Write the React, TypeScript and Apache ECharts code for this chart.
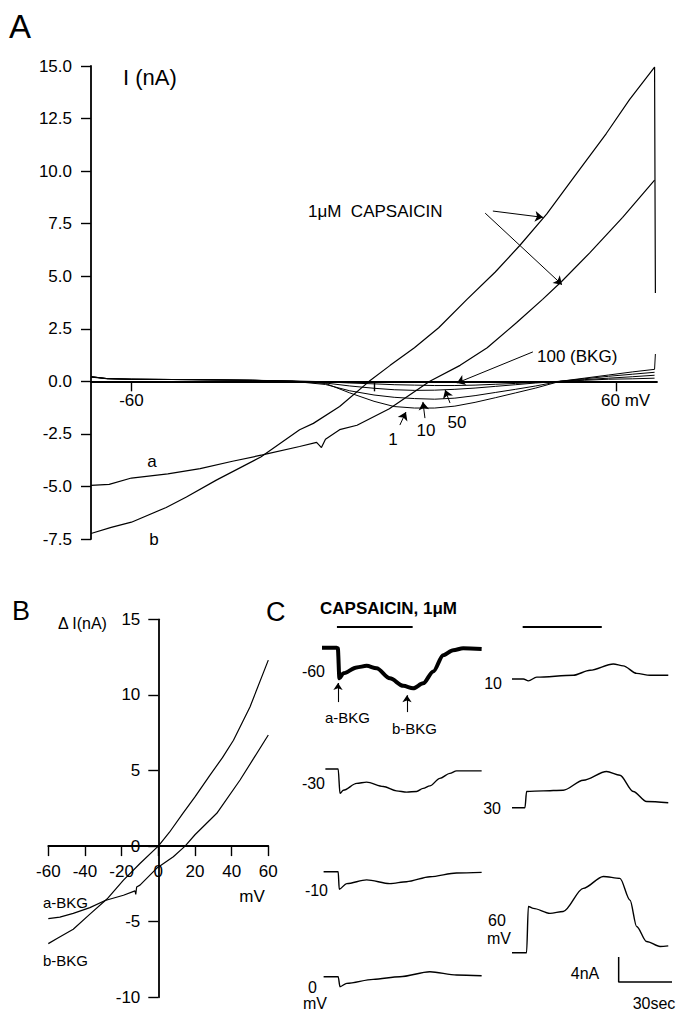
import React, { useEffect, useRef } from "react";
import * as echarts from "echarts";

const FONT = "'Liberation Sans', Arial, Helvetica, sans-serif";

// ---------- Panel A : I (nA) vs membrane potential (mV) ----------
const A_B_MV = [-70, -65, -60, -51.4, -46.4, -39, -28, -18.4, -15, -8.5, -1.2, 4, 10, 16, 23, 30, 36, 42.7, 49, 57.5, 63.2, 69.4, 69.6];
const A_B_NA = [-7.24, -6.95, -6.7, -6.0, -5.5, -4.7, -3.6, -2.3, -2.0, -1.2, 0, 0.76, 1.6, 2.55, 3.9, 5.2, 6.45, 7.95, 9.6, 11.8, 13.4, 14.95, 4.2];

const A_A_MV = [-70, -65.5, -60, -51, -43, -35, -27.6, -18.4, -14.2, -13, -12, -8.5, -4.2, 3.8, 13.8, 21.3, 28, 35.3, 41.7, 46.4, 53.3, 61.5, 69.4];
const A_A_NA = [-4.95, -4.9, -4.6, -4.4, -4.15, -3.8, -3.5, -3.1, -2.9, -3.15, -2.75, -2.3, -2.09, -1.3, 0, 0.76, 1.6, 2.8, 3.9, 4.75, 6.1, 7.8, 9.57];

const A_SMALL_MV = [-70, -66, -60, -45, -30, -20, -12, -6, 0, 5, 10, 15, 20, 25, 30, 35, 40, 46, 52, 58, 64, 69.4];
const A_BKG_NA = [0.2, 0.12, 0.1, 0.08, 0.05, 0.02, -0.02, -0.08, -0.12, -0.16, -0.18, -0.2, -0.2, -0.18, -0.14, -0.1, -0.05, 0, 0.05, 0.1, 0.12, 0.15];
const A_50_NA = [0.22, 0.13, 0.1, 0.08, 0.05, 0.01, -0.08, -0.22, -0.33, -0.4, -0.43, -0.42, -0.38, -0.32, -0.24, -0.16, -0.08, 0, 0.08, 0.15, 0.22, 0.29];
const A_10_NA = [0.22, 0.13, 0.1, 0.08, 0.05, 0.0, -0.15, -0.45, -0.65, -0.76, -0.82, -0.85, -0.8, -0.68, -0.53, -0.38, -0.22, 0, 0.12, 0.24, 0.34, 0.43];
const A_1_NA = [0.22, 0.13, 0.1, 0.08, 0.05, 0.0, -0.1, -0.55, -0.95, -1.2, -1.27, -1.27, -1.18, -1.0, -0.78, -0.55, -0.32, 0, 0.15, 0.3, 0.45, 0.57];
const A_1_END = [[69.6, 1.3]];

// annotation arrows for panel A: [fromMv, fromNa, toMv, toNa]
const A_ARROWS = [
  [29.4, 8.1, 41.8, 7.8],
  [27.5, 8.0, 46.5, 4.6],
  [39.3, 1.4, 20.5, -0.08],
  [18.8, -1.03, 17.6, -0.41],
  [12.6, -1.75, 12.1, -0.98],
  [6.4, -2.08, 7.9, -1.46],
];

// ---------- Panel B : ΔI (nA) vs mV ----------
const B_A_MV = [-60, -53.7, -46.4, -37.3, -29, -19, -12.7, -12.3, -11.8, -10, -0.9, 8.2, 14.6, 20, 31.9, 44.6, 52, 60];
const B_A_NA = [-4.8, -4.7, -4.45, -4.07, -3.6, -3.25, -2.96, -3.2, -2.7, -2.58, -1.47, -0.7, 0, 0.75, 2.17, 4.37, 5.8, 7.35];
const B_B_MV = [-60, -55, -46.4, -37.3, -28, -19, -10, -0.9, 0, 6, 13.6, 20, 28.2, 35, 41, 50, 60];
const B_B_NA = [-6.45, -6.1, -5.5, -4.5, -3.5, -2.25, -1.15, -0.1, 0, 0.9, 2.2, 3.25, 4.7, 5.85, 7.0, 9.2, 12.3];

// ---------- Panel C : current traces (time s, current nA rel. to holding) ----------
const C_M60_T = [0, 8.2, 8.9, 9.8, 12.0, 19.5, 25.1, 30.7, 38.2, 45.7, 51.3, 56.9, 62.6, 68.2, 73.8, 79.4, 89.8];
const C_M60_I = [0, 0, -0.1, -4.9, -4.1, -3.15, -2.9, -3.3, -4.9, -6.1, -6.5, -5.7, -3.8, -1.2, -0.4, -0.1, -0.2];
const C_M30_T = [1.9, 9.1, 10.1, 12, 19.5, 25.1, 34.5, 41.9, 47.6, 53.2, 56.9, 60.7, 66.3, 71.9, 75.7, 89.8];
const C_M30_I = [0, 0, -3.9, -3.4, -2.3, -2.1, -2.8, -3.5, -3.7, -3.6, -3.1, -2.7, -1.5, -0.7, -0.3, -0.3];
const C_M10_T = [0.9, 9.1, 9.7, 13.9, 25.1, 38.2, 47.6, 60.7, 75.7, 89.8];
const C_M10_I = [0, 0, -2.8, -1.9, -1.3, -1.9, -1.6, -0.8, -0.2, -0.1];
const C_0_T = [0.9, 9.1, 10.1, 13.9, 28.8, 43.8, 60.7, 75.7, 89.8];
const C_0_I = [0, 0, -1.6, -1.07, -0.43, 0, 0.8, 0.27, 0.16];
const C_10_T = [0, 6.4, 9.2, 13.9, 34.5, 43.9, 57, 62.6, 70.1, 77.6, 87.9];
const C_10_I = [0, 0, -0.3, 0.3, 0.6, 1.4, 2.4, 2.1, 0.9, 0.6, 0.6];
const C_30_T = [0, 7.3, 8.2, 17.6, 28.8, 40.1, 53.2, 60.7, 68.2, 75.7, 87.9];
const C_30_I = [0, 0, 2.6, 2.7, 2.8, 4.4, 5.8, 5.2, 2.6, 1.0, 0.8];
const C_60_T = [0, 8.2, 9.2, 12, 21.4, 28.8, 40.1, 51.4, 60.7, 66.4, 70.1, 75.7, 83.3, 87.9];
const C_60_I = [0, 0, 7.4, 7.1, 6.3, 6.6, 10.3, 12.2, 11.9, 8.4, 4.2, 1.8, 1.0, 1.1];

const CAPS_LEFT = [8.4, 51];
const CAPS_RIGHT = [6, 50.5];
const SCALE_NA = 4;
const SCALE_SEC = 30;

// ---------- layout ----------
const A_GRID = { left: 91, top: 66, width: 566, height: 473 };
const A_X = [-70, 70];
const A_Y = [-7.5, 15];
const B_GRID = { left: 48.3, top: 619.3, width: 220, height: 378 };
const B_X = [-60, 60];
const B_Y = [-10, 15];

const PX_PER_NA = 6.25;
const C_COL_X = [322, 512];
const C_COL_W = 160; // 90 s
const C_T_MAX = 90;
const C_Y_MIN = -12;
const C_Y_MAX = 14;
const CAPS_BAR_Y = 627;

const zip = (xs: number[], ys: number[]) => xs.map((x, i) => [x, ys[i]]);
// pixel offset that moves an edge axis onto the other axis' zero
const zeroOffsetFromBottom = (g: any, yr: number[]) => -(g.height * (0 - yr[0])) / (yr[1] - yr[0]);
const zeroOffsetFromLeft = (g: any, xr: number[]) => -(g.width * (0 - xr[0])) / (xr[1] - xr[0]);

const black = "#000";
const axisText = { color: black, fontFamily: FONT, fontSize: 17 };

function buildOption() {
  const grids: any[] = [];
  const xAxes: any[] = [];
  const yAxes: any[] = [];
  const series: any[] = [];

  const line = (gi: number, data: any[], width = 1.2, extra: any = {}) => ({
    type: "line",
    xAxisIndex: gi,
    yAxisIndex: gi,
    data,
    symbol: "none",
    showSymbol: false,
    silent: true,
    animation: false,
    lineStyle: { color: black, width },
    ...extra,
  });

  // Panel A grid (index 0)
  grids.push({ ...A_GRID, containLabel: false, outerBoundsMode: "none" });
  xAxes.push({
    gridIndex: 0,
    type: "value",
    position: "bottom",
    min: A_X[0],
    max: A_X[1],
    offset: zeroOffsetFromBottom(A_GRID, A_Y),
    axisLine: { show: true, onZero: false, lineStyle: { color: black, width: 1.8 } },
    axisTick: { show: true, length: 10, customValues: [-60, 0, 60], lineStyle: { color: black, width: 1.4 } },
    axisLabel: {
      ...axisText,
      margin: 11,
      customValues: [-60, 60],
      formatter: (v: number) => (v === 60 ? "{u|60 mV}" : String(v)),
      rich: { u: { ...axisText, padding: [0, 0, 0, 18] } },
    },
    splitLine: { show: false },
  });
  yAxes.push({
    gridIndex: 0,
    type: "value",
    position: "left",
    min: A_Y[0],
    max: A_Y[1],
    interval: 2.5,
    axisLine: { show: true, onZero: false, lineStyle: { color: black, width: 1.8 } },
    axisTick: { show: true, length: 10, lineStyle: { color: black, width: 1.4 } },
    axisLabel: { ...axisText, margin: 19, formatter: (v: number) => v.toFixed(1) },
    splitLine: { show: false },
  });

  series.push(line(0, zip(A_SMALL_MV, A_BKG_NA), 1.0));
  series.push(line(0, zip(A_SMALL_MV, A_50_NA), 1.0));
  series.push(line(0, zip(A_SMALL_MV, A_10_NA), 1.0));
  series.push(line(0, [...zip(A_SMALL_MV, A_1_NA), ...A_1_END], 1.0));
  series.push(line(0, zip(A_B_MV, A_B_NA), 1.2));
  series.push(
    line(0, zip(A_A_MV, A_A_NA), 1.2, {
      markLine: {
        silent: true,
        animation: false,
        symbol: ["none", "arrow"],
        symbolSize: 8,
        label: { show: false },
        lineStyle: { color: black, width: 1, type: "solid" },
        emphasis: { disabled: true },
        data: A_ARROWS.map(([x1, y1, x2, y2]) => [{ coord: [x1, y1] }, { coord: [x2, y2] }]),
      },
    })
  );

  // Panel B grid (index 1)
  grids.push({ ...B_GRID, containLabel: false, outerBoundsMode: "none" });
  xAxes.push({
    gridIndex: 1,
    type: "value",
    position: "bottom",
    min: B_X[0],
    max: B_X[1],
    interval: 20,
    offset: zeroOffsetFromBottom(B_GRID, B_Y),
    axisLine: { show: true, onZero: false, lineStyle: { color: black, width: 1.8 } },
    axisTick: { show: true, length: 10, lineStyle: { color: black, width: 1.4 } },
    axisLabel: { ...axisText, margin: 17 },
    splitLine: { show: false },
  });
  yAxes.push({
    gridIndex: 1,
    type: "value",
    position: "left",
    min: B_Y[0],
    max: B_Y[1],
    interval: 5,
    offset: zeroOffsetFromLeft(B_GRID, B_X),
    axisLine: { show: true, onZero: false, lineStyle: { color: black, width: 1.8 } },
    axisTick: { show: true, length: 10, lineStyle: { color: black, width: 1.4 } },
    axisLabel: { ...axisText, margin: 18 },
    splitLine: { show: false },
  });
  series.push(line(1, zip(B_A_MV, B_A_NA), 1.2));
  series.push(line(1, zip(B_B_MV, B_B_NA), 1.2));

  // Panel C traces: one grid each
  const traces = [
    { col: 0, base: 647.7, t: C_M60_T, i: C_M60_I, w: 4 },
    { col: 0, base: 769, t: C_M30_T, i: C_M30_I, w: 1.4 },
    { col: 0, base: 871.7, t: C_M10_T, i: C_M10_I, w: 1.4 },
    { col: 0, base: 976.7, t: C_0_T, i: C_0_I, w: 1.4 },
    { col: 1, base: 679, t: C_10_T, i: C_10_I, w: 1.4 },
    { col: 1, base: 807.7, t: C_30_T, i: C_30_I, w: 1.4 },
    { col: 1, base: 952.7, t: C_60_T, i: C_60_I, w: 1.4 },
  ];
  traces.forEach((tr, k) => {
    const gi = 2 + k;
    grids.push({
      left: C_COL_X[tr.col],
      top: tr.base - C_Y_MAX * PX_PER_NA,
      width: C_COL_W,
      height: (C_Y_MAX - C_Y_MIN) * PX_PER_NA,
      containLabel: false,
      outerBoundsMode: "none",
    });
    xAxes.push({ gridIndex: gi, type: "value", min: 0, max: C_T_MAX, show: false });
    yAxes.push({ gridIndex: gi, type: "value", min: C_Y_MIN, max: C_Y_MAX, show: false });
    const extra: any = { smooth: 0.3, smoothMonotone: "x", clip: false };
    if (k === 0) {
      extra.markLine = {
        silent: true,
        animation: false,
        symbol: ["none", "arrow"],
        symbolSize: 7,
        label: { show: false },
        lineStyle: { color: black, width: 1.1, type: "solid" },
        emphasis: { disabled: true },
        data: [
          [{ coord: [9.0, -8.7] }, { coord: [9.0, -5.65] }],
          [{ coord: [47.8, -10.3] }, { coord: [47.8, -7.6] }],
        ],
      };
    }
    series.push(line(gi, zip(tr.t, tr.i), tr.w, extra));
    // capsaicin application bars above the top trace of each column
    if (k === 0 || k === 4) {
      const lvl = (tr.base - CAPS_BAR_Y) / PX_PER_NA;
      const span = tr.col === 0 ? CAPS_LEFT : CAPS_RIGHT;
      series.push(line(gi, span.map((t) => [t, lvl]), 1.8, { clip: false }));
    }
    // scale bar next to the 60 mV trace
    if (k === 6) {
      const top = -0.7;
      series.push(
        line(
          gi,
          [
            [C_T_MAX - SCALE_SEC, top],
            [C_T_MAX - SCALE_SEC, top - SCALE_NA],
            [C_T_MAX, top - SCALE_NA],
          ],
          1.5,
          { clip: false }
        )
      );
    }
  });

  const txt = (text: string, x: number, y: number, size: number, align = "left", weight: any = "normal") => ({
    type: "text",
    x,
    y,
    silent: true,
    style: { text, fill: black, fontSize: size, fontFamily: FONT, fontWeight: weight, align, verticalAlign: "middle" },
  });

  const graphic = [
    txt("A", 9, 26, 33),
    txt("I (nA)", 123, 77, 22),
    txt("1μM  CAPSAICIN", 308, 211, 17),
    txt("100 (BKG)", 537, 356, 17),
    txt("50", 457, 422, 17, "center"),
    txt("10", 426, 430, 17, "center"),
    txt("1", 393, 439, 17, "center"),
    txt("a", 152, 461, 17, "center"),
    txt("b", 154, 539, 17, "center"),
    txt("B", 12, 611, 27),
    txt("C", 266, 612, 27),
    txt("Δ I(nA)", 58, 623, 16),
    txt("mV", 252, 896, 17, "center"),
    txt("a-BKG", 43, 902, 15),
    txt("b-BKG", 43, 960, 15),
    txt("CAPSAICIN, 1μM", 320, 608, 17, "left", "bold"),
    txt("-60", 325, 671, 16, "right"),
    txt("a-BKG", 325, 717, 15),
    txt("b-BKG", 392, 728, 15),
    txt("-30", 325, 783, 16, "right"),
    txt("-10", 328, 890, 16, "right"),
    txt("0", 317, 987, 16, "right"),
    txt("mV", 315, 1003, 16, "center"),
    txt("10", 502, 683, 16, "right"),
    txt("30", 501, 808, 16, "right"),
    txt("60", 497, 920, 16, "center"),
    txt("mV", 499, 938, 16, "center"),
    txt("4nA", 585, 973, 16, "center"),
    txt("30sec", 654, 1003, 16, "center"),
  ];

  return {
    animation: false,
    backgroundColor: "#fff",
    grid: grids,
    xAxis: xAxes,
    yAxis: yAxes,
    series,
    graphic,
  };
}

export default function App() {
  const ref = useRef<HTMLDivElement>(null);
  useEffect(() => {
    document.body.style.margin = "0";
    const chart = echarts.init(ref.current!, null, { renderer: "svg" });
    chart.setOption(buildOption() as any);
    return () => chart.dispose();
  }, []);
  return (
    <div
      ref={ref}
      style={{ position: "absolute", left: 0, top: 0, width: 680, height: 1011, background: "#fff" }}
    />
  );
}
